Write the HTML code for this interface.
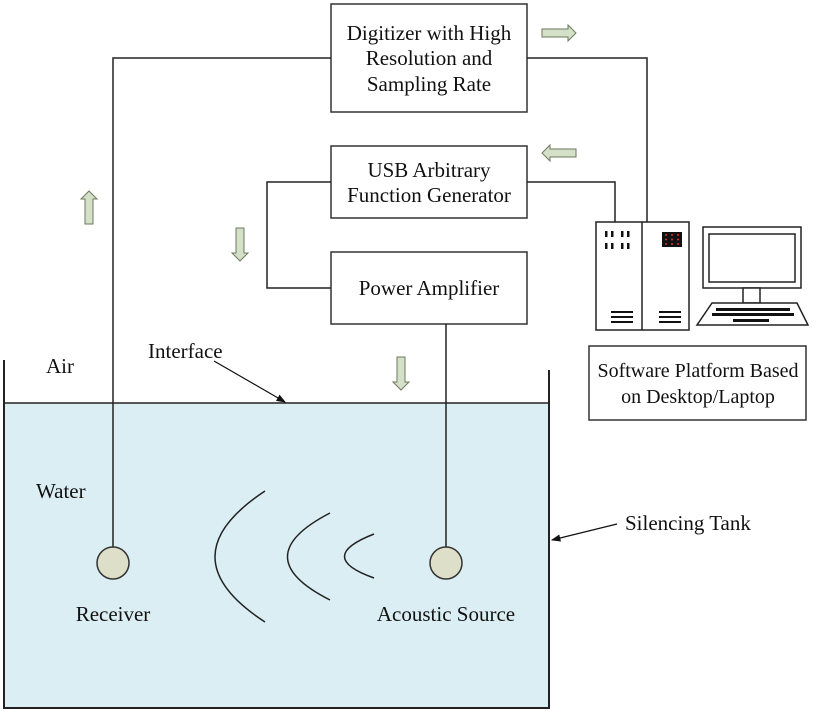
<!DOCTYPE html>
<html><head><style>body{margin:0;background:#fff}svg{display:block}text{font-family:"Liberation Serif",serif;font-size:21px;fill:#111}</style></head><body>
<svg width="829" height="713" viewBox="0 0 829 713" xmlns="http://www.w3.org/2000/svg">
<defs><marker id="ah" markerWidth="8" markerHeight="8" refX="7" refY="4" orient="auto"><path d="M0,1 L8,4 L0,7 Z" fill="#111"/></marker></defs>
<rect x="4" y="403" width="545" height="305" fill="#dbeef3"/>
<path d="M4,360 V708 H549 V370" fill="none" stroke="#222" stroke-width="2"/>
<line x1="4" y1="403" x2="549" y2="403" stroke="#222" stroke-width="1.5"/>
<g fill="#fff" stroke="#333" stroke-width="1.5">
<rect x="331" y="4" width="196" height="108"/>
<rect x="331" y="146" width="196" height="72"/>
<rect x="331" y="252" width="196" height="72"/>
<rect x="589" y="346" width="217" height="74"/>
</g>
<g fill="none" stroke="#222" stroke-width="1.5">
<path d="M331,58 H113 V547"/>
<path d="M527,58 H647 V222"/>
<path d="M527,182 H615 V222"/>
<path d="M331,182 H267 V288 H331"/>
<path d="M446,324 V547"/>
<path d="M265,491 Q165,557 265,622"/>
<path d="M330,513 Q245,557 330,600"/>
<path d="M374,534 Q315,557 374,578"/>
</g>
<circle cx="113" cy="563" r="16" fill="#dedfc8" stroke="#333" stroke-width="1.5"/>
<circle cx="446" cy="563" r="16" fill="#dedfc8" stroke="#333" stroke-width="1.5"/>
<line x1="214" y1="361" x2="285" y2="402" stroke="#111" stroke-width="1.2" marker-end="url(#ah)"/>
<line x1="617" y1="524" x2="552" y2="540" stroke="#111" stroke-width="1.2" marker-end="url(#ah)"/>
<g fill="#d4e0c8" stroke="#6b7a5e" stroke-width="1">
<path d="M542,29 H568 V25 L576,33 L568,41 V37 H542 Z"/>
<path d="M576,149 H550 V145 L542,153 L550,161 V157 H576 Z"/>
<path d="M85,224 V199 H81 L89,191 L97,199 H93 V224 Z"/>
<path d="M236,228 V253 H232 L240,261 L248,253 H244 V228 Z"/>
<path d="M397,357 V382 H393 L401,390 L409,382 H405 V357 Z"/>
</g>
<g fill="#fff" stroke="#222" stroke-width="1.5">
<rect x="596" y="222" width="93" height="108"/>
<line x1="642" y1="222" x2="642" y2="330"/>
<rect x="703" y="227" width="98" height="61"/>
<rect x="709" y="234" width="86" height="48"/>
<rect x="743" y="288" width="17" height="15"/>
<path d="M712,303 H797 L808,325 H697 Z"/>
</g>
<g fill="#111">
<rect x="605" y="231" width="2.5" height="6"/><rect x="611" y="231" width="2.5" height="6"/><rect x="621" y="231" width="2.5" height="6"/><rect x="627" y="231" width="2.5" height="6"/>
<rect x="605" y="243" width="2.5" height="6"/><rect x="611" y="243" width="2.5" height="6"/><rect x="621" y="243" width="2.5" height="6"/><rect x="627" y="243" width="2.5" height="6"/>
<rect x="611" y="311" width="22" height="2"/><rect x="611" y="316" width="22" height="2"/><rect x="611" y="321" width="22" height="2"/>
<rect x="659" y="311" width="22" height="2"/><rect x="659" y="316" width="22" height="2"/><rect x="659" y="321" width="22" height="2"/>
<rect x="662" y="232" width="20" height="15"/>
<rect x="716" y="308" width="74" height="3"/><rect x="712" y="313" width="82" height="3"/><rect x="733" y="319" width="36" height="3"/>
</g>
<g fill="#d33">
<circle cx="666" cy="235" r="1"/><circle cx="672" cy="235" r="1"/><circle cx="678" cy="235" r="1"/>
<circle cx="666" cy="239.5" r="1"/><circle cx="672" cy="239.5" r="1"/><circle cx="678" cy="239.5" r="1"/>
<circle cx="666" cy="244" r="1"/><circle cx="672" cy="244" r="1"/><circle cx="678" cy="244" r="1"/>
</g>
<g text-anchor="middle">
<text x="429" y="40">Digitizer with High</text>
<text x="429" y="65">Resolution and</text>
<text x="429" y="91">Sampling Rate</text>
<text x="429" y="177">USB Arbitrary</text>
<text x="429" y="202">Function Generator</text>
<text x="429" y="295">Power Amplifier</text>
<text x="698" y="377" style="font-size:20px">Software Platform Based</text>
<text x="698" y="403" style="font-size:20px">on Desktop/Laptop</text>
<text x="113" y="621">Receiver</text>
<text x="446" y="621">Acoustic Source</text>
</g>
<text x="46" y="373">Air</text>
<text x="148" y="358">Interface</text>
<text x="36" y="498">Water</text>
<text x="625" y="530">Silencing Tank</text>
</svg>
</body></html>
